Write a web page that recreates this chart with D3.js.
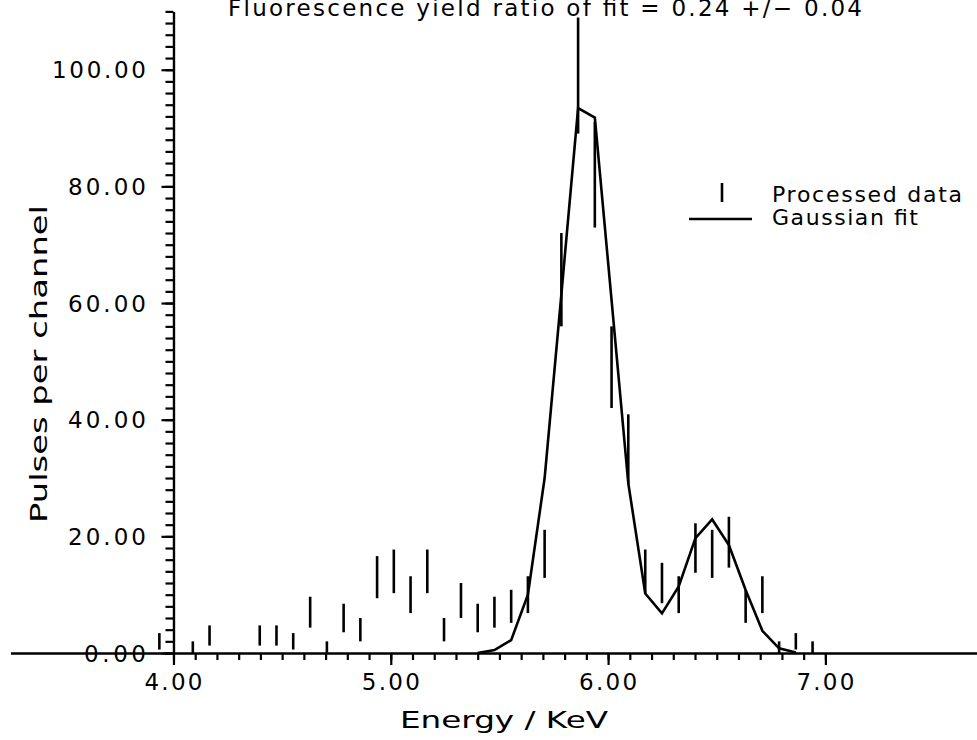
<!DOCTYPE html>
<html>
<head>
<meta charset="utf-8">
<script src="https://cdn.jsdelivr.net/npm/d3@7/dist/d3.min.js"></script>
<style>
  body { margin: 0; background: #fff; }
  svg { display: block; }
  text { font-family: "DejaVu Sans", "Liberation Sans", sans-serif; fill: #000; }
</style>
</head>
<body>
<svg id="chart" width="977" height="740"></svg>
<script>
// Channel energies (KeV), measured counts and their error half-widths
const energies = [3.935, 4.012, 4.089, 4.166, 4.243, 4.320, 4.397, 4.474, 4.551, 4.629,
                  4.706, 4.783, 4.860, 4.937, 5.014, 5.091, 5.168, 5.245, 5.323, 5.400,
                  5.477, 5.554, 5.631, 5.708, 5.785, 5.862, 5.939, 6.016, 6.093, 6.171,
                  6.248, 6.325, 6.402, 6.479, 6.556, 6.633, 6.710, 6.787, 6.864, 6.941];
const counts   = [2, 0, 1, 3, 0, 0, 3, 3, 2, 7,
                  1, 6, 4, 13, 14, 10, 14, 4, 9, 6,
                  7, 8, 10, 17, 64, 99, 82, 49, 35, 14,
                  12, 10, 18, 17, 19, 8, 10, 1, 2, 1];
const errors   = [1.41, 0, 1.0, 1.73, 0, 0, 1.73, 1.73, 1.41, 2.65,
                  1.0, 2.45, 2.0, 3.61, 3.74, 3.16, 3.74, 2.0, 3.0, 2.45,
                  2.65, 2.83, 3.16, 4.12, 8.0, 9.95, 9.06, 7.0, 5.92, 3.74,
                  3.46, 3.16, 4.24, 4.12, 4.36, 2.83, 3.16, 1.0, 1.41, 1.0];

// Gaussian fit evaluated at the channel energies
const fitEnergies = [5.400, 5.477, 5.554, 5.631, 5.708, 5.785, 5.862, 5.939, 6.016, 6.093,
                     6.171, 6.248, 6.325, 6.402, 6.479, 6.556, 6.633, 6.710, 6.787, 6.864];
const fitValues   = [0.0, 0.5, 2.2, 10.0, 30.0, 61.5, 93.4, 91.8, 60.5, 29.1,
                     10.2, 6.8, 11.4, 19.7, 22.9, 18.5, 10.8, 3.8, 0.8, 0.1];

// Axis ticks and labels
const xMajorTicks = [4, 5, 6, 7];
const xTickLabels = ["4.00", "5.00", "6.00", "7.00"];
const yMajorTicks = [0, 20, 40, 60, 80, 100];
const yTickLabels = ["0.00", "20.00", "40.00", "60.00", "80.00", "100.00"];

const titleText = "Fluorescence yield ratio of fit = 0.24 +/\u2212 0.04";
const xTitle = "Energy / KeV";
const yTitle = "Pulses per channel";
const legendLabels = ["Processed data", "Gaussian fit"];

const svg = d3.select("#chart");
const FS = 23;

const x = d3.scaleLinear().domain([3.25, 7.70]).range([10.5, 977.5]);
const y = d3.scaleLinear().domain([0, 110]).range([653, 11.4]);

const xMinor = d3.range(40, 71).map(v => v / 10);
const yMinor = d3.range(0, 56).map(v => v * 2);

// X axis: long baseline, minor ticks every 0.1, major every 1.0
const gx = svg.append("g").attr("transform", `translate(0,${y(0)})`);
gx.call(d3.axisBottom(x).tickValues(xMinor).tickFormat("").tickSize(7).tickSizeOuter(0));
gx.append("g").call(d3.axisBottom(x).tickValues(xMajorTicks).tickFormat("").tickSize(12).tickSizeOuter(0))
  .select(".domain").remove();
gx.selectAll("path.domain").attr("stroke", "#000").attr("stroke-width", 2.4);
gx.selectAll(".tick line").attr("stroke", "#000").attr("stroke-width", 2.2);

svg.append("g").selectAll("text").data(xMajorTicks).join("text")
  .attr("x", d => x(d)).attr("y", 690)
  .attr("text-anchor", "middle")
  .attr("font-size", FS)
  .attr("textLength", 58).attr("lengthAdjust", "spacing")
  .text((d, i) => xTickLabels[i]);

// Y axis: minor ticks every 2, major every 20, ticks pointing left
const gy = svg.append("g").attr("transform", `translate(${x(4)},0)`);
gy.call(d3.axisLeft(y).tickValues(yMinor).tickFormat("").tickSize(8).tickSizeOuter(0));
gy.append("g").call(d3.axisLeft(y).tickValues(yMajorTicks).tickFormat("").tickSize(12).tickSizeOuter(0))
  .select(".domain").remove();
gy.selectAll("path.domain").attr("stroke", "#000").attr("stroke-width", 2.4);
gy.selectAll(".tick line").attr("stroke", "#000").attr("stroke-width", 2.2);

svg.append("g").selectAll("text").data(yMajorTicks).join("text")
  .attr("x", 146).attr("y", d => y(d) + 8.5)
  .attr("text-anchor", "end")
  .attr("font-size", FS)
  .attr("textLength", (d, i) => yTickLabels[i].length * 16 - 2)
  .attr("lengthAdjust", "spacing")
  .text((d, i) => yTickLabels[i]);

// Error bars for the processed data
const bars = energies.map((e, i) => ({ e, c: counts[i], err: errors[i] })).filter(d => d.err > 0);
svg.append("g").selectAll("line").data(bars).join("line")
  .attr("x1", d => x(d.e)).attr("x2", d => x(d.e))
  .attr("y1", d => y(d.c - d.err)).attr("y2", d => y(d.c + d.err))
  .attr("stroke", "#000").attr("stroke-width", 2.6);

// Fitted curve
const fitLine = d3.line().x(d => x(d[0])).y(d => y(d[1]));
svg.append("path")
  .datum(fitEnergies.map((e, i) => [e, fitValues[i]]))
  .attr("d", fitLine)
  .attr("fill", "none").attr("stroke", "#000").attr("stroke-width", 2.6)
  .attr("stroke-linejoin", "miter");

// Titles
svg.append("text").attr("x", 228).attr("y", 16)
  .attr("font-size", FS).attr("textLength", 634).attr("lengthAdjust", "spacing")
  .text(titleText);

svg.append("text").attr("x", 504).attr("y", 728).attr("text-anchor", "middle")
  .attr("font-size", FS).attr("textLength", 208).attr("lengthAdjust", "spacingAndGlyphs")
  .text(xTitle);

svg.append("text").attr("transform", "translate(47,364) rotate(-90)")
  .attr("text-anchor", "middle")
  .attr("font-size", FS).attr("textLength", 318).attr("lengthAdjust", "spacingAndGlyphs")
  .text(yTitle);

// Legend
const lg = svg.append("g");
lg.append("line").attr("x1", 722).attr("x2", 722).attr("y1", 183).attr("y2", 202)
  .attr("stroke", "#000").attr("stroke-width", 2.6);
lg.append("line").attr("x1", 689).attr("x2", 752).attr("y1", 219).attr("y2", 219)
  .attr("stroke", "#000").attr("stroke-width", 2.6);
lg.append("text").attr("x", 772).attr("y", 202).attr("font-size", FS - 1)
  .attr("textLength", 190).attr("lengthAdjust", "spacing").text(legendLabels[0]);
lg.append("text").attr("x", 772).attr("y", 225).attr("font-size", FS - 1)
  .attr("textLength", 146).attr("lengthAdjust", "spacing").text(legendLabels[1]);
</script>
</body>
</html>
